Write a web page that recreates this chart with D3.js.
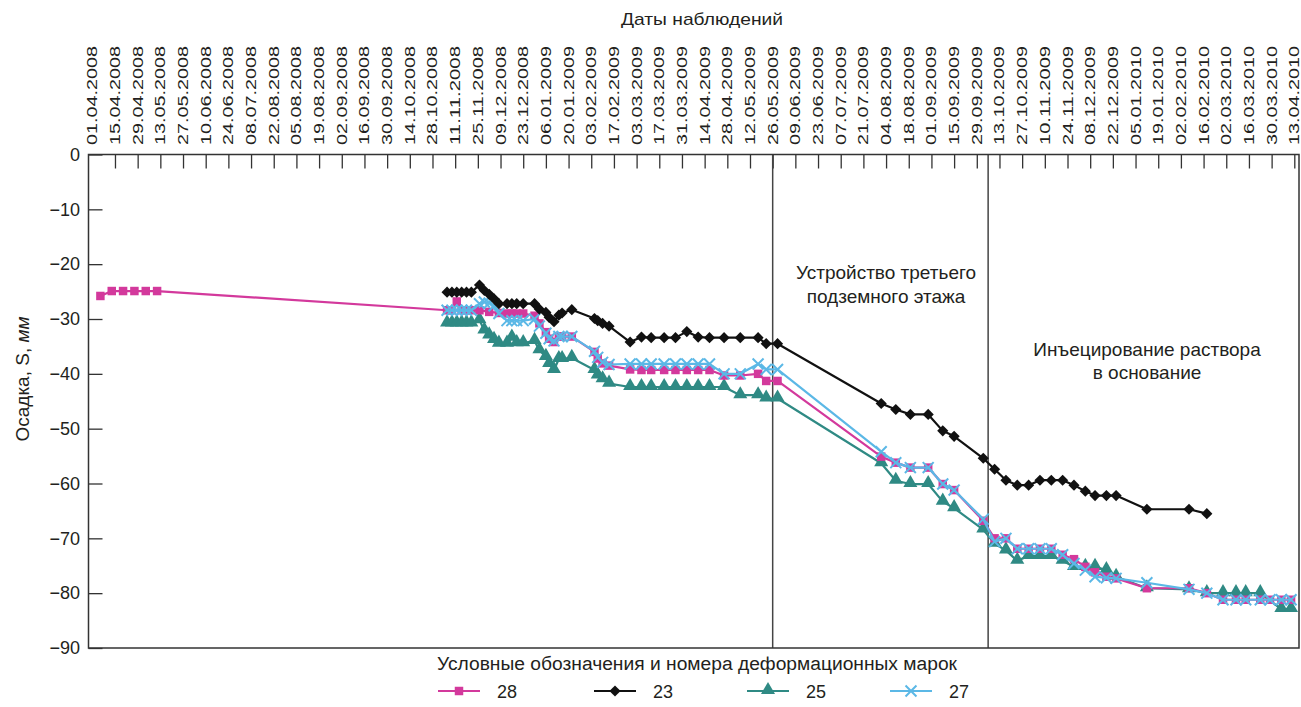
<!DOCTYPE html>
<html><head><meta charset="utf-8">
<script src="https://cdn.jsdelivr.net/npm/d3@7"></script>
<style>
body{margin:0;background:#fff}
text{font-family:"Liberation Sans",Arial,Helvetica,sans-serif;fill:#231f20}
</style>
</head><body>
<svg id="chart" width="1301" height="707"></svg>
<script>
// ---------- DATA ----------
const dateTicks = ["01.04.2008","15.04.2008","29.04.2008","13.05.2008","27.05.2008","10.06.2008","24.06.2008","08.07.2008","22.08.2008","05.08.2008","19.08.2008","02.09.2008","16.09.2008","30.09.2008","14.10.2008","28.10.2008","11.11.2008","25.11.2008","09.12.2008","23.12.2008","06.01.2009","20.01.2009","03.02.2009","17.02.2009","03.03.2009","17.03.2009","31.03.2009","14.04.2009","28.04.2009","12.05.2009","26.05.2009","09.06.2009","23.06.2009","07.07.2009","21.07.2009","04.08.2009","18.08.2009","01.09.2009","15.09.2009","29.09.2009","13.10.2009","27.10.2009","10.11.2009","24.11.2009","08.12.2009","22.12.2009","05.01.2010","19.01.2010","02.02.2010","16.02.2010","02.03.2010","16.03.2010","30.03.2010","13.04.2010"];
const yTicks = [0,-10,-20,-30,-40,-50,-60,-70,-80,-90];
const eventDates = ["26.05.2009","06.10.2009"];

const phase1 = ["06.11.2008","09.11.2008","12.11.2008","15.11.2008","18.11.2008","21.11.2008","26.11.2008","29.11.2008","02.12.2008","05.12.2008","08.12.2008","13.12.2008","16.12.2008","19.12.2008","23.12.2008","30.12.2008","02.01.2009","06.01.2009","08.01.2009","11.01.2009","14.01.2009","16.01.2009","22.01.2009","05.02.2009","07.02.2009","10.02.2009","14.02.2009","27.02.2009","06.03.2009","12.03.2009","20.03.2009","27.03.2009","03.04.2009","10.04.2009","17.04.2009","26.04.2009","06.05.2009","17.05.2009","22.05.2009","29.05.2009"];

// mark 28
const dates28 = ["06.04.2008","13.04.2008","20.04.2008","27.04.2008","04.05.2008","11.05.2008",
"06.11.2008","09.11.2008","12.11.2008","15.11.2008","18.11.2008","21.11.2008","26.11.2008","02.12.2008","08.12.2008","13.12.2008","16.12.2008","19.12.2008","23.12.2008","30.12.2008","02.01.2009","06.01.2009","08.01.2009","11.01.2009","14.01.2009","16.01.2009","22.01.2009","05.02.2009","07.02.2009","10.02.2009","14.02.2009","27.02.2009","06.03.2009","12.03.2009","20.03.2009","27.03.2009","03.04.2009","10.04.2009","17.04.2009","26.04.2009","06.05.2009","17.05.2009","22.05.2009","29.05.2009",
"01.08.2009","10.08.2009","19.08.2009","30.08.2009","08.09.2009","15.09.2009","03.10.2009","10.10.2009","17.10.2009","24.10.2009","31.10.2009","07.11.2009","14.11.2009","21.11.2009","28.11.2009","05.12.2009","11.12.2009","18.12.2009","24.12.2009","12.01.2010","07.02.2010","18.02.2010","28.02.2010","08.03.2010","14.03.2010","23.03.2010","29.03.2010","05.04.2010","11.04.2010"];
const values28 = [-25.8,-24.9,-24.9,-24.9,-24.9,-24.9,
-28.4,-28.4,-26.8,-28.4,-28.4,-28.4,-28.4,-28.7,-28.9,-29.0,-29.0,-29.0,-29.0,-29.4,-30.8,-32.4,-33.6,-34.2,-33.2,-33.2,-33.2,-36.0,-37.2,-38.1,-38.5,-39.2,-39.3,-39.3,-39.3,-39.3,-39.3,-39.3,-39.3,-40.3,-40.3,-40.0,-41.3,-41.3,
-55.1,-56.2,-57.1,-57.1,-60.1,-61.2,-66.8,-70.0,-70.0,-71.9,-71.9,-71.9,-71.9,-73.0,-73.8,-75.2,-76.2,-77.0,-77.3,-79.1,-79.1,-80.0,-81.2,-81.2,-81.2,-81.2,-81.2,-81.2,-81.2];

// mark 23
const dates23 = phase1.concat(["01.08.2009","10.08.2009","19.08.2009","30.08.2009","08.09.2009","15.09.2009","03.10.2009","10.10.2009","17.10.2009","24.10.2009","31.10.2009","07.11.2009","14.11.2009","21.11.2009","28.11.2009","05.12.2009","11.12.2009","18.12.2009","24.12.2009","12.01.2010","07.02.2010","18.02.2010"]);
const values23 = [-25.1,-25.1,-25.1,-25.1,-25.1,-25.1,-23.8,-24.8,-25.5,-26.3,-27.2,-27.2,-27.2,-27.2,-27.2,-27.2,-28.2,-28.8,-29.7,-30.5,-29.3,-28.9,-28.3,-29.9,-30.3,-30.8,-31.3,-34.2,-33.3,-33.4,-33.4,-33.4,-32.3,-33.3,-33.4,-33.4,-33.4,-33.4,-34.5,-34.5,
-45.4,-46.5,-47.4,-47.4,-50.4,-51.4,-55.4,-57.4,-59.4,-60.3,-60.3,-59.4,-59.4,-59.4,-60.3,-61.4,-62.2,-62.2,-62.2,-64.7,-64.7,-65.5];

// mark 25
const dates25 = phase1.concat(["01.08.2009","10.08.2009","19.08.2009","30.08.2009","08.09.2009","15.09.2009","03.10.2009","10.10.2009","17.10.2009","24.10.2009","31.10.2009","07.11.2009","14.11.2009","21.11.2009","28.11.2009","05.12.2009","11.12.2009","18.12.2009","24.12.2009","12.01.2010","07.02.2010","18.02.2010","28.02.2010","08.03.2010","14.03.2010","23.03.2010","05.04.2010","11.04.2010"]);
const values25 = [-30.8,-30.8,-30.8,-30.8,-30.8,-30.8,-30.2,-32.1,-33.0,-33.8,-34.5,-34.5,-33.4,-34.4,-34.4,-34.0,-35.7,-36.9,-38.2,-39.3,-37.3,-37.3,-37.1,-39.3,-40.3,-41.0,-41.8,-42.4,-42.4,-42.4,-42.4,-42.4,-42.4,-42.4,-42.4,-42.4,-43.9,-43.9,-44.5,-44.5,
-56.3,-59.5,-60.1,-60.1,-63.3,-64.5,-68.4,-71.0,-72.2,-74.1,-73.2,-73.2,-73.2,-74.1,-75.2,-75.2,-75.2,-75.8,-77.0,-79.1,-79.3,-80.0,-80.0,-80.0,-80.0,-80.0,-82.9,-82.9];

// mark 27
const dates27 = phase1.concat(["01.08.2009","10.08.2009","19.08.2009","30.08.2009","08.09.2009","15.09.2009","03.10.2009","10.10.2009","17.10.2009","24.10.2009","31.10.2009","07.11.2009","14.11.2009","21.11.2009","28.11.2009","05.12.2009","11.12.2009","18.12.2009","24.12.2009","12.01.2010","07.02.2010","18.02.2010","28.02.2010","08.03.2010","14.03.2010","23.03.2010","29.03.2010","05.04.2010","11.04.2010"]);
const values27 = [-28.4,-28.4,-28.4,-28.4,-28.4,-28.4,-27.2,-26.9,-27.1,-27.6,-29.0,-30.3,-30.3,-30.3,-30.3,-30.0,-31.3,-32.6,-33.6,-34.0,-33.2,-33.2,-33.2,-35.9,-37.0,-37.9,-38.3,-38.2,-38.2,-38.2,-38.2,-38.2,-38.2,-38.2,-38.2,-40.0,-40.0,-38.2,-39.2,-39.2,
-54.2,-56.2,-57.1,-57.1,-60.1,-61.2,-66.5,-70.6,-70.0,-71.9,-71.9,-71.9,-71.9,-73.0,-74.6,-75.8,-77.0,-77.2,-77.3,-78.1,-79.3,-80.0,-81.2,-81.2,-81.2,-81.2,-81.2,-81.2,-81.2];

const seriesNames = ["28","23","25","27"];
const seriesColors = ["#d3399c","#111111","#2f8a84","#5bb8e6"];

// ---------- CHART ----------
const svg = d3.select("#chart");
const parse = d3.timeParse("%d.%m.%Y");
const L = 88.5, R = 1299, T = 154.5, B = 648;
const start = parse(dateTicks[0]);
const x = d3.scaleTime().domain([start, parse("13.04.2010")]).range([92.3, 1294.3]);
const y = d3.scaleLinear().domain([0, -90]).range([T, B]);

// top date axis
const tickDates = dateTicks.map((s, i) => d3.timeDay.offset(start, 14 * i));
const gx = svg.append("g").attr("transform", `translate(0,${T})`)
  .call(d3.axisTop(x).tickValues(tickDates).tickFormat((d, i) => dateTicks[i]).tickSize(-14).tickPadding(0));
gx.attr("font-family", null).attr("font-size", null);
gx.select(".domain").remove();
gx.selectAll(".tick line").attr("stroke", "#333").attr("stroke-width", 1.3)
  .filter((d, i) => i === 0).remove();
gx.selectAll(".tick text")
  .attr("x", 0).attr("y", 0).attr("dy", null)
  .attr("transform", "translate(4.5,-9.5) rotate(-90)")
  .attr("text-anchor", "start").attr("font-size", 15.5)
  .attr("textLength", 99).attr("lengthAdjust", "spacingAndGlyphs")
  .attr("fill", "#231f20");

// left axis
const gy = svg.append("g").attr("transform", `translate(${L},0)`)
  .call(d3.axisLeft(y).tickValues(yTicks).tickSize(-14).tickPadding(8.5));
gy.attr("font-family", null).attr("font-size", null);
gy.select(".domain").remove();
gy.selectAll(".tick line").attr("stroke", "#333").attr("stroke-width", 1.3);
gy.selectAll(".tick text").attr("font-size", 18).attr("fill", "#231f20");

// event lines
svg.selectAll("line.event").data(eventDates).join("line")
  .attr("class", "event")
  .attr("x1", d => x(parse(d))).attr("x2", d => x(parse(d)))
  .attr("y1", T).attr("y2", B).attr("stroke", "#444").attr("stroke-width", 1.5);

// frame
svg.append("rect").attr("x", L).attr("y", T).attr("width", R - L).attr("height", B - T)
  .attr("fill", "none").attr("stroke", "#333").attr("stroke-width", 1.5);

// series
const series = [
  {name: "25", dates: dates25, values: values25, color: seriesColors[2], sym: "tri"},
  {name: "28", dates: dates28, values: values28, color: seriesColors[0], sym: "sq"},
  {name: "27", dates: dates27, values: values27, color: seriesColors[3], sym: "x"},
  {name: "23", dates: dates23, values: values23, color: seriesColors[1], sym: "dia"}
];
const symPath = {
  sq: d3.symbol(d3.symbolSquare, 72)(),
  dia: d3.symbol(d3.symbolSquare, 62)(),
  tri: d3.symbol(d3.symbolTriangle, 85)(),
  x: d3.symbol(d3.symbolTimes, 80)()
};
function drawMarker(g, sym, color) {
  const p = g.append("path").attr("d", symPath[sym]);
  if (sym === "x") p.attr("fill", "none").attr("stroke", color).attr("stroke-width", 2);
  else p.attr("fill", color);
  if (sym === "dia") p.attr("transform", "rotate(45)");
  if (sym === "tri") p.attr("transform", "translate(0,-1)");
}
const line = d3.line().x(d => x(d.date)).y(d => y(d.value));
series.forEach(s => {
  const pts = s.dates.map((d, i) => ({date: parse(d), value: s.values[i]}));
  svg.append("path").datum(pts).attr("d", line).attr("fill", "none")
    .attr("stroke", s.color).attr("stroke-width", 2.2).attr("stroke-linejoin", "round");
  svg.append("g").selectAll("g").data(pts).join("g")
    .attr("transform", d => `translate(${x(d.date)},${y(d.value)})`)
    .each(function () { drawMarker(d3.select(this), s.sym, s.color); });
});

// texts
svg.append("text").attr("x", 702).attr("y", 25).attr("text-anchor", "middle")
  .attr("font-size", 17).attr("textLength", 162).attr("lengthAdjust", "spacingAndGlyphs")
  .text("Даты наблюдений");

const yl = svg.append("text").attr("transform", "translate(29,379) rotate(-90)")
  .attr("text-anchor", "middle").attr("font-size", 19);
yl.append("tspan").text("Осадка, S, ");
yl.append("tspan").attr("font-style", "italic").text("мм");

svg.append("text").attr("x", 886).attr("y", 279).attr("text-anchor", "middle")
  .attr("font-size", 19).text("Устройство третьего");
svg.append("text").attr("x", 886).attr("y", 303).attr("text-anchor", "middle")
  .attr("font-size", 19).text("подземного этажа");
svg.append("text").attr("x", 1147).attr("y", 356).attr("text-anchor", "middle")
  .attr("font-size", 19).text("Инъецирование раствора");
svg.append("text").attr("x", 1147).attr("y", 379).attr("text-anchor", "middle")
  .attr("font-size", 19).text("в основание");

svg.append("text").attr("x", 697).attr("y", 670).attr("text-anchor", "middle")
  .attr("font-size", 18).attr("textLength", 520).attr("lengthAdjust", "spacingAndGlyphs")
  .text("Условные обозначения и номера деформационных марок");

// legend
const legX = [438, 594, 747, 890];
const legSym = ["sq", "dia", "tri", "x"];
seriesNames.forEach((n, i) => {
  const g = svg.append("g").attr("transform", `translate(${legX[i]},691)`);
  g.append("line").attr("x1", 0).attr("x2", 42).attr("stroke", seriesColors[i]).attr("stroke-width", 2);
  drawMarker(g.append("g").attr("transform", "translate(21,0)"), legSym[i], seriesColors[i]);
  g.append("text").attr("x", 59).attr("y", 6.5).attr("font-size", 18).text(n);
});
</script>
</body></html>
